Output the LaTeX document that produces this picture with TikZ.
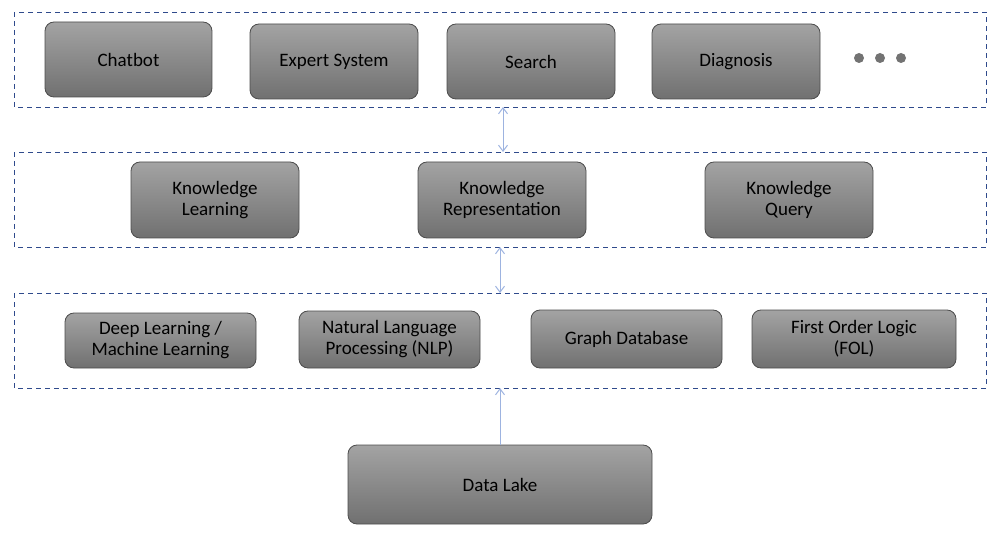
\documentclass[tikz,border=0pt]{standalone}
\usepackage{fontspec}
\setmainfont{Carlito}
\usetikzlibrary{arrows.meta}
\definecolor{fr}{HTML}{2F4A8C}
\definecolor{ar}{HTML}{9DB3E0}
\tikzset{
 box/.style={draw=black!70,line width=0.8pt,rounded corners=9pt,top color=black!36,bottom color=black!56,font=\fontsize{19}{21}\selectfont,align=center,inner sep=0pt},
 frame/.style={draw=fr,dashed,line width=0.9pt,dash pattern=on 5pt off 4pt},
 conn/.style={draw=ar,line width=1pt,{Straight Barb[length=6pt,width=9pt]}-{Straight Barb[length=6pt,width=9pt]}},
 conn1/.style={draw=ar,line width=1pt,-{Straight Barb[length=6pt,width=9pt]}}
}
\newcommand{\bx}[6]{\node[box,minimum width=#4-#2,minimum height=#5-#3] (#1) at ({(#2+#4)/2},{(#3+#5)/2}) {#6};}
\begin{document}
\begin{tikzpicture}[x=1pt,y=-1pt]
\useasboundingbox (0,0) rectangle (1000,534);
\draw[frame] (14,12) rectangle (986,107);
\draw[frame] (14,152) rectangle (986,247);
\draw[frame] (14,293) rectangle (986,388);
\coordinate (f1b) at (503,107); \coordinate (f2t) at (503,152);
\coordinate (f2b) at (500,247); \coordinate (f3t) at (500,293);
\coordinate (f3b) at (500,388);
\bx{chat}{45}{22}{212}{97}{Chatbot}
\bx{exp}{250}{24}{418}{99}{Expert System}
\bx{search}{447}{24}{615}{99}{Search}
\bx{diag}{652}{24}{820}{99}{Diagnosis}
\foreach \i/\x in {1/859,2/880,3/901} \fill[black!55] (\x,58) circle (5);
\bx{kl}{131}{162}{299}{238}{Knowledge\\Learning}
\bx{kr}{418}{162}{586}{238}{Knowledge\\Representation}
\bx{kq}{705}{162}{873}{238}{Knowledge\\Query}
\bx{dl}{65}{313}{256}{368}{Deep Learning /\\Machine Learning}
\bx{nlp}{299}{311}{480}{368}{Natural Language\\Processing (NLP)}
\bx{gd}{531}{310}{722}{368}{Graph Database}
\bx{fol}{752}{310}{956}{368}{First Order Logic\\(FOL)}
\bx{lake}{348}{445}{652}{524}{Data Lake}
\draw[conn] (f1b) -- (f2t);
\draw[conn] (f2b) -- (f3t);
\draw[conn1] (lake.north) -- (f3b);
\end{tikzpicture}
\end{document}
